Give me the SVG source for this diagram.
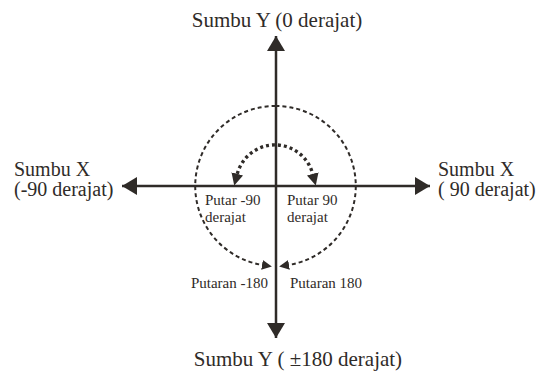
<svg xmlns="http://www.w3.org/2000/svg" width="541" height="374" viewBox="0 0 541 374">
<style>
.ax{stroke:#2f2b28;stroke-width:2.5;fill:none}
.dash{stroke:#2f2b28;stroke-width:2;fill:none;stroke-dasharray:4 3}
.dot{stroke:#2f2b28;stroke-width:3.4;fill:none;stroke-dasharray:3 3}
.big{font-family:"Liberation Serif",serif;font-size:21px;fill:#2f2b28}
.side{font-family:"Liberation Serif",serif;font-size:20px;fill:#2f2b28}
.sm{font-family:"Liberation Serif",serif;font-size:15px;fill:#2f2b28}
</style>
<defs>
<marker id="ah" markerUnits="userSpaceOnUse" markerWidth="18" markerHeight="18" refX="15" refY="9" orient="auto-start-reverse">
<path d="M0,0 L15,9 L0,18 z" fill="#2f2b28"/>
</marker>
<marker id="sh" markerUnits="userSpaceOnUse" markerWidth="11" markerHeight="10" refX="0" refY="5" orient="auto-start-reverse">
<path d="M0,0 L10,5 L0,10 z" fill="#2f2b28"/>
</marker>
<marker id="mh" markerUnits="userSpaceOnUse" markerWidth="13" markerHeight="12" refX="0" refY="6" orient="auto-start-reverse">
<path d="M0,0 L12,6 L0,12 z" fill="#2f2b28"/>
</marker>
</defs>
<g id="connectors">
<line class="ax" x1="276" y1="338" x2="276" y2="36" marker-start="url(#ah)" marker-end="url(#ah)"/>
<line class="ax" x1="122" y1="186" x2="430" y2="186" marker-start="url(#ah)" marker-end="url(#ah)"/>
<path class="dash" d="M275.5,106 A80,80 0 0 0 262,264.9" marker-end="url(#sh)"/>
<path class="dash" d="M275.5,106 A80,80 0 0 1 289,264.9" marker-end="url(#sh)"/>
<path class="dot" d="M237.3,173.9 A39,39 0 0 1 312.7,173.9" marker-start="url(#mh)" marker-end="url(#mh)"/>
</g>
<g id="top-label"><text class="big" x="277" y="27" text-anchor="middle">Sumbu Y (0 derajat)</text></g>
<g id="bottom-label"><text class="big" x="298" y="366" text-anchor="middle">Sumbu Y ( ±180 derajat)</text></g>
<g id="left-label"><text class="side" x="14" y="176">Sumbu X</text><text class="side" x="14" y="196">(-90 derajat)</text></g>
<g id="right-label"><text class="side" x="438" y="176">Sumbu X</text><text class="side" x="438" y="196">( 90 derajat)</text></g>
<g id="rot-neg90"><text class="sm" x="205" y="205">Putar -90</text><text class="sm" x="205" y="222">derajat</text></g>
<g id="rot-90"><text class="sm" x="287" y="205">Putar 90</text><text class="sm" x="287" y="222">derajat</text></g>
<g id="rot-neg180"><text class="sm" x="268" y="288" text-anchor="end">Putaran -180</text></g>
<g id="rot-180"><text class="sm" x="290" y="288">Putaran 180</text></g>
</svg>
